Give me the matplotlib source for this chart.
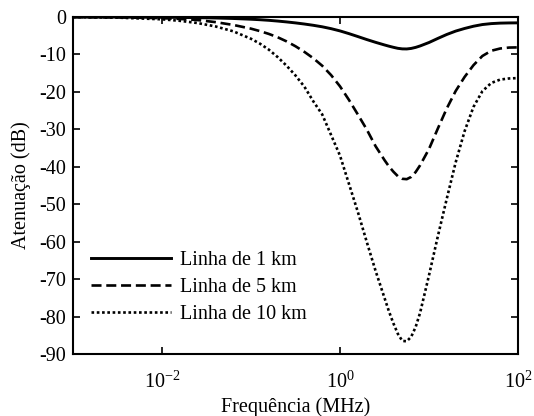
import numpy as np
import matplotlib
matplotlib.use("Agg")
import matplotlib.pyplot as plt
from matplotlib.ticker import FixedLocator, NullLocator

plt.rcParams['font.family'] = ['Liberation Serif', 'DejaVu Serif']
plt.rcParams['mathtext.fontset'] = 'custom'
plt.rcParams['mathtext.rm'] = 'Liberation Serif'
plt.rcParams['mathtext.it'] = 'Liberation Serif:italic'
plt.rcParams['mathtext.bf'] = 'Liberation Serif:bold'

# Frequency grid (MHz), given as decade exponents
freq_exp = [-3.0, -2.5, -2.0, -1.8, -1.6, -1.4, -1.2, -1.0, -0.9, -0.8, -0.7,
            -0.6, -0.5, -0.4, -0.3, -0.2, -0.1, 0.0, 0.1, 0.2, 0.3, 0.4, 0.5,
            0.55, 0.6, 0.65, 0.7, 0.75, 0.8, 0.85, 0.9, 1.0, 1.1, 1.2, 1.3,
            1.4, 1.5, 1.6, 1.7, 1.8, 1.9, 2.0]
freq_mhz = [10.0 ** e for e in freq_exp]

att_1km = [0.0, -0.02, -0.06, -0.10, -0.16, -0.25, -0.38, -0.58, -0.71, -0.87,
           -1.07, -1.30, -1.56, -1.86, -2.20, -2.60, -3.10, -3.70, -4.42, -5.20,
           -6.00, -6.75, -7.45, -7.78, -8.08, -8.35, -8.50, -8.52, -8.38, -8.10,
           -7.72, -6.80, -5.70, -4.65, -3.75, -3.05, -2.45, -2.00, -1.75, -1.62,
           -1.57, -1.55]

att_5km = [0.0, -0.08, -0.30, -0.50, -0.80, -1.35, -2.10, -3.10, -3.75, -4.50,
           -5.40, -6.50, -7.80, -9.30, -11.0, -13.0, -15.5, -18.5, -22.1, -26.0,
           -30.0, -34.5, -38.2, -39.9, -41.3, -42.5, -43.2, -43.3, -42.7, -41.4,
           -39.6, -35.25, -29.75, -24.4, -19.75, -16.0, -12.85, -10.4, -9.0,
           -8.4, -8.15, -8.1]

att_10km = [0.0, -0.15, -0.60, -1.00, -1.60, -2.50, -3.80, -5.80, -7.10, -8.70,
            -10.7, -13.0, -15.6, -18.6, -22.5, -26.0, -31.5, -37.0, -44.5, -52.0,
            -60.0, -67.8, -75.0, -78.6, -81.8, -84.6, -86.5, -86.6, -85.4, -82.8,
            -79.0, -69.0, -58.5, -48.5, -38.8, -30.5, -24.0, -19.8, -17.6, -16.7,
            -16.4, -16.3]

labels = ['Linha de 1 km', 'Linha de 5 km', 'Linha de 10 km']
yticks = [0, -10, -20, -30, -40, -50, -60, -70, -80, -90]
xticks = [1e-2, 1e0, 1e2]
xticklabels = [r'$10^{-2}$', r'$10^{0}$', r'$10^{2}$']

fig = plt.figure(figsize=(5.34, 4.16), dpi=100)
ax = fig.add_axes([0.1367, 0.149, 0.8333, 0.810])

ax.plot(freq_mhz, att_1km, color='black', lw=2.1, ls='-', label=labels[0])
ax.plot(freq_mhz, att_5km, color='black', lw=1.9, ls=(0, (3.8, 1.8)), label=labels[1])
ax.plot(freq_mhz, att_10km, color='black', lw=1.9, ls=(0, (1, 1)), label=labels[2])

ax.set_xscale('log')
ax.set_xlim(1e-3, 1e2)
ax.set_ylim(-90, 0)
ax.xaxis.set_major_locator(FixedLocator(xticks))
ax.xaxis.set_minor_locator(NullLocator())
ax.set_yticks(yticks)
ax.set_xticklabels(xticklabels)
ax.set_yticklabels([str(v) for v in yticks])

ax.tick_params(direction='in', length=5, width=1.2, top=True, right=True,
               labelsize=14.5, colors='black', pad=5)
ax.tick_params(axis='x', labelsize=14.5, pad=13)
for s in ax.spines.values():
    s.set_linewidth(1.5)

ax.set_xlabel('Frequência (MHz)', fontsize=14.5, labelpad=3)
ax.set_ylabel('Atenuação (dB)', fontsize=14.5, labelpad=6)

ax.legend(loc='lower left', bbox_to_anchor=(0.04, 0.089), frameon=False,
          fontsize=14.5, handlelength=4.0, handletextpad=0.45, labelspacing=0.4,
          borderpad=0, borderaxespad=0)

fig.savefig('out.png', dpi=100)
